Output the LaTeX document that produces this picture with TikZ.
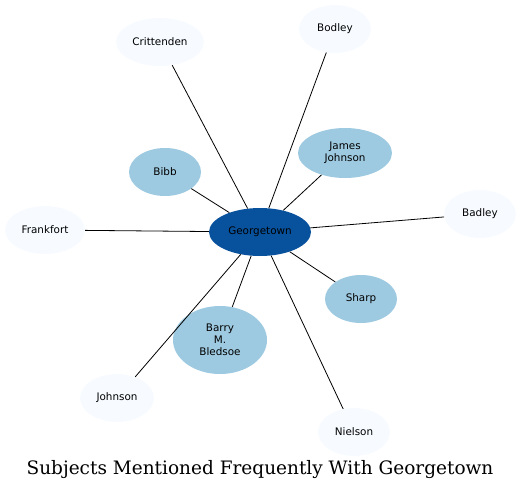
\documentclass[tikz,border=0pt]{standalone}
\usepackage{fontspec}
\newfontfamily\nodefont{DejaVu Sans}
\newfontfamily\titlefont{DejaVu Serif}
\usetikzlibrary{shapes.geometric}

\begin{document}
\begin{tikzpicture}[
    x=1pt, y=-1pt,
    hub/.style={ellipse, inner sep=0pt, minimum width=102pt, minimum height=48pt, draw=none, fill=hubblue, font=\nodefont\fontsize{10.4}{12}\selectfont, align=center},
    near/.style={ellipse, inner sep=0pt, minimum width=72pt, minimum height=48pt, draw=none, fill=nearblue, font=\nodefont\fontsize{10.4}{12}\selectfont, align=center},
    far/.style={ellipse, inner sep=0pt, minimum width=72pt, minimum height=48pt, draw=none, fill=farblue, font=\nodefont\fontsize{10.4}{12}\selectfont, align=center},
    link/.style={black, line width=0.8pt},
]
    \definecolor{hubblue}{HTML}{08519C}
    \definecolor{nearblue}{HTML}{9ECAE1}
    \definecolor{farblue}{HTML}{F7FBFF}
    \useasboundingbox (0,0) rectangle (521,492);

    % Centre
    \node (georgetown) [hub] at (260,232) {Georgetown};

    % Close subjects
    \node (james_johnson) [near, minimum width=94pt, minimum height=50pt] at (345,153) {James\\Johnson};
    \node (bibb) [near] at (165,172) {Bibb};
    \node (sharp) [near] at (361,299) {Sharp};
    \node (bledsoe) [near, minimum width=94pt, minimum height=68pt] at (220,340) {Barry\\M.\\Bledsoe};

    % Distant subjects
    \node (crittenden) [far, minimum width=88pt] at (160,42) {Crittenden};
    \node (bodley) [far] at (335,29) {Bodley};
    \node (frankfort) [far, minimum width=80pt] at (45,230) {Frankfort};
    \node (badley) [far] at (480,214) {Badley};
    \node (johnson) [far, minimum width=74pt] at (117,398) {Johnson};
    \node (nielson) [far] at (354,432) {Nielson};

    \foreach \other in {crittenden, bodley, james_johnson, bibb, frankfort, badley, sharp, bledsoe, johnson, nielson}
        \draw [link] (georgetown) -- (\other);

    % Title
    \node (title) at (260,470) {\titlefont\fontsize{18.5}{20}\selectfont Subjects Mentioned Frequently With Georgetown};

\end{tikzpicture}
\end{document}
